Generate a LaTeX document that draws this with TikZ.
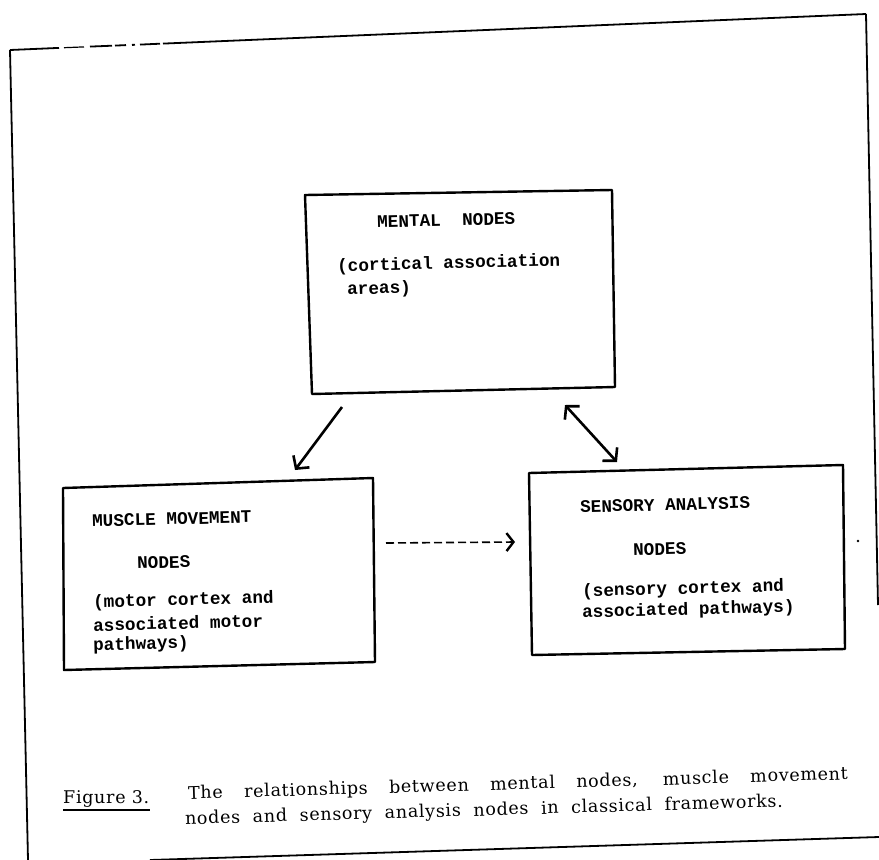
\documentclass[tikz,border=0pt]{standalone}
\usepackage{fontspec}
\setmonofont{Liberation Mono}
\newfontfamily\capfont[LetterSpace=4]{DejaVu Serif}
\usetikzlibrary{arrows.meta}
\begin{document}
\begin{tikzpicture}[x=1pt,y=-1pt,
  frame/.style={line width=1.8pt},
  boxline/.style={line width=2.4pt, line join=round},
  boxtext/.style={font=\ttfamily\bfseries\fontsize{17.7}{21}\selectfont, anchor=west, inner sep=0pt, rotate=1.5},
  captext/.style={font=\capfont\fontsize{17.5}{21}\selectfont, inner sep=0pt},
  arr/.style={line width=2.6pt, -{Straight Barb[length=9pt,width=20pt,line width=2.6pt]}},
  darr/.style={line width=2.6pt, {Straight Barb[length=9pt,width=20pt,line width=2.6pt]}-{Straight Barb[length=9pt,width=20pt,line width=2.6pt]}},
  dasharr/.style={line width=1.6pt, dash pattern=on 8pt off 4pt, -{Straight Barb[length=7pt,width=18pt,line width=2.4pt]}},
]
\useasboundingbox (0,0) rectangle (879,860);
\fill[white] (0,0) rectangle (879,860);

% outer frame
\draw[frame] (10,50) -- (28,860);
\draw[frame] (866,14) -- (878,605);
\draw[frame] (163,43.6) -- (866,14);
\draw[frame] (10,50) -- (59,47.9);
\draw[line width=1.2pt] (64,47.7) -- (84,46.9);
\draw[frame] (90,46.6) -- (112,45.7);
\draw[frame] (115,45.6) -- (126,45.1);
\draw[frame] (132,44.9) -- (135,44.8);
\draw[frame] (140,44.6) -- (160,43.7);
\draw[frame] (150,860) -- (879,837);

% mental box
\draw[boxline] (305,195) -- (612,190) -- (615,387) -- (312,394) -- cycle;
\node[boxtext] (mental) at (377,222) {MENTAL\ \ NODES};
\node[boxtext] (cort) at (337,267) {(cortical association};
\node[boxtext] (areas) at (347,290) {areas)};

% muscle box
\draw[boxline] (63,488) -- (373,478) -- (375,662) -- (64,670) -- cycle;
\node[boxtext] (muscle) at (92,521) {MUSCLE MOVEMENT};
\node[boxtext] (mnodes) at (137,563) {NODES};
\node[boxtext] (motor1) at (93,603) {(motor cortex and};
\node[boxtext] (motor2) at (93,625) {associated motor};
\node[boxtext] (motor3) at (93,646) {pathways)};

% sensory box
\draw[boxline] (529,473) -- (843,465) -- (845,649) -- (532,655) -- cycle;
\node[boxtext] (sensory) at (580,507) {SENSORY ANALYSIS};
\node[boxtext] (snodes) at (633,550) {NODES};
\node[boxtext] (sens1) at (582,592) {(sensory cortex and};
\node[boxtext] (sens2) at (582,613) {associated pathways)};

% stray dot
\fill (858,541) circle (1.3);

% arrows
\coordinate (a1s) at (342,407);
\coordinate (a1e) at (295,470);
\draw[arr] (a1s) -- (a1e);
\coordinate (a2s) at (565,405);
\coordinate (a2e) at (617,462);
\draw[darr] (a2s) -- (a2e);
\coordinate (a3s) at (386,543);
\coordinate (a3e) at (515,542);
\draw[dasharr] (a3s) -- (a3e);

% caption
\node[captext, anchor=west] (fig) at (63,799) {Figure 3.};
\coordinate (ul1) at (63,810);
\coordinate (ul2) at (150,810);
\draw[line width=1.8pt] (ul1) -- (ul2);
\node[captext, rotate=1.7] (cap1) at (518,784.5) {\makebox[660pt][s]{The relationships between mental nodes, muscle movement}};
\node[captext, rotate=1.7] (cap2) at (484,811) {\makebox[598pt][s]{nodes and sensory analysis nodes in classical frameworks.}};
\end{tikzpicture}
\end{document}
